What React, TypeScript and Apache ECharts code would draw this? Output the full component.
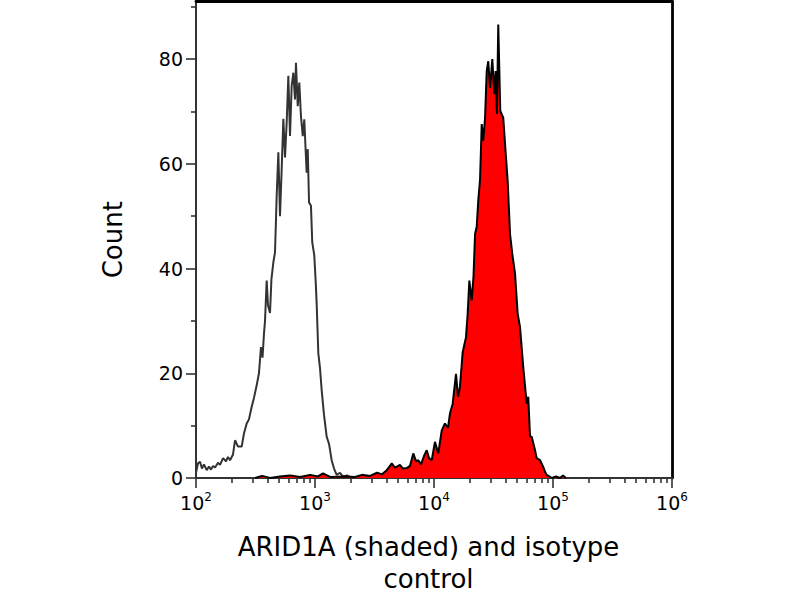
import React, { useEffect, useRef } from "react";
import * as echarts from "echarts";

// Log10 decade positions of the x axis (10^2 .. 10^6)
const decadeExponents = [2, 3, 4, 5, 6];
const minorMultipliers = [2, 3, 4, 5, 6, 7, 8, 9];
const yMajorTicks = [0, 20, 40, 60, 80];
const yMinorTicks = [10, 30, 50, 70, 90];

// Isotype control histogram (x = log10 intensity, y = count)
const isotypeLog = [
  2.0, 2.017, 2.034, 2.05, 2.067, 2.09, 2.109, 2.126, 2.143, 2.16, 2.185, 2.202,
  2.227, 2.252, 2.269, 2.286, 2.311, 2.328, 2.353, 2.384, 2.403, 2.426, 2.445,
  2.468, 2.487, 2.51, 2.529, 2.546, 2.559, 2.571, 2.58, 2.594, 2.605, 2.622,
  2.634, 2.65, 2.664, 2.678, 2.692, 2.706, 2.72, 2.734, 2.748, 2.762, 2.776,
  2.79, 2.804, 2.818, 2.832, 2.84, 2.855, 2.868, 2.882, 2.897, 2.91, 2.922,
  2.93, 2.939, 2.95, 2.966, 2.977, 2.994, 3.006, 3.014, 3.028, 3.042, 3.056,
  3.076, 3.098, 3.118, 3.14, 3.16, 3.182, 3.21, 3.235, 3.269, 3.311, 3.378,
];
const isotypeCount = [
  1.0, 2.8, 3.1, 1.8, 2.6, 1.5, 2.2, 1.6, 2.3, 2.0, 2.9, 2.5,
  3.8, 3.2, 4.0, 3.4, 4.5, 7.2, 6.0, 6.0, 8.5, 10.4, 11.2,
  13.6, 15.3, 17.7, 20.0, 25.0, 23.0, 27.5, 30.0, 37.7, 33.0, 31.5,
  38.0, 41.2, 43.1, 53.9, 62.2, 50.0, 59.0, 68.6, 61.2, 67.9, 76.8,
  65.3, 74.9, 77.4, 72.3, 79.3, 71.0, 75.5, 69.1, 65.3, 68.5, 62.2,
  58.3, 62.8, 52.6, 52.0, 45.0, 42.5, 37.4, 33.3, 23.8, 21.0, 16.8,
  12.0, 7.9, 6.5, 3.4, 1.8, 0.6, 1.0, 0.3, 0.5, 0, 0,
];

// ARID1A (shaded) histogram
const arid1aLog = [
  2.496, 2.555, 2.622, 2.706, 2.79, 2.874, 2.958, 3.025, 3.067, 3.126, 3.252,
  3.336, 3.395, 3.462, 3.521, 3.563, 3.603, 3.63, 3.645, 3.672, 3.714, 3.739,
  3.771, 3.798, 3.826, 3.849, 3.868, 3.891, 3.916, 3.939, 3.958, 3.981, 4.008,
  4.036, 4.065, 4.092, 4.118, 4.134, 4.157, 4.185, 4.202, 4.218, 4.241, 4.269,
  4.283, 4.297, 4.317, 4.332, 4.345, 4.359, 4.372, 4.387, 4.401, 4.414, 4.429,
  4.443, 4.456, 4.471, 4.49, 4.507, 4.518, 4.529, 4.54, 4.557, 4.582, 4.603,
  4.619, 4.639, 4.658, 4.681, 4.703, 4.723, 4.75, 4.779, 4.792, 4.807, 4.821,
  4.849, 4.863, 4.891, 4.916, 4.933, 4.947, 4.961, 4.992, 5.025, 5.059, 5.084,
  5.109,
];
const arid1aCount = [
  0, 0.4, 0, 0.3, 0.5, 0.2, 0.6, 0.3, 0.9, 0.2, 0.3,
  0.2, 0.6, 0.4, 1.0, 0.7, 1.5, 2.3, 2.8, 2.0, 2.5, 1.8,
  1.9, 2.3, 4.7, 3.2, 3.4, 2.6, 4.2, 5.3, 3.8, 3.4, 6.9,
  4.7, 9.1, 10.4, 9.6, 12.3, 14.2, 19.9, 15.5, 17.4, 24.0, 26.9,
  31.4, 37.7, 33.9, 38.5, 46.6, 48.0, 53.0, 57.0, 67.6, 64.4, 68.8,
  77.7, 79.6, 74.5, 80.0, 73.3, 77.7, 69.5, 86.6, 70.1, 68.8, 61.8,
  56.8, 46.6, 42.8, 39.0, 31.4, 28.8, 21.2, 14.2, 15.5, 7.9, 7.9,
  5.3, 3.8, 3.4, 2.2, 1.2, 0.6, 0.4, 0, 0.3, 0, 0.5,
  0,
];

const FONT = "DejaVu Sans";

export default function App() {
  const ref = useRef<HTMLDivElement>(null);

  useEffect(() => {
    if (!ref.current) return;
    const chart = echarts.init(ref.current, undefined, { renderer: "svg" });

    const xMin = decadeExponents[0];
    const xMax = decadeExponents[decadeExponents.length - 1];
    const minorX: number[] = [];
    decadeExponents.slice(0, -1).forEach((d) => {
      minorMultipliers.forEach((k) => minorX.push(d + Math.log10(k)));
    });

    const isoData = isotypeLog.map((x, i) => [x, isotypeCount[i]]);
    const aridData = arid1aLog.map((x, i) => [x, arid1aCount[i]]);

    const axisColor = "#333";

    chart.setOption({
      animation: false,
      backgroundColor: "#fff",
      grid: { left: 196, right: 128, top: 1.5, bottom: 122 },
      xAxis: [
        {
          type: "value",
          min: xMin,
          max: xMax,
          interval: 1,
          position: "bottom",
          splitLine: { show: false },
          axisLine: { show: true, onZero: false, lineStyle: { color: axisColor, width: 2 } },
          axisTick: { show: true, length: 10, lineStyle: { color: axisColor, width: 1.6 } },
          axisLabel: {
            margin: 13,
            formatter: (v: number) => `{b|10}{s|${Math.round(v)}}`,
            rich: {
              b: { fontSize: 19, fontFamily: FONT, color: "#000", lineHeight: 24 },
              s: { fontSize: 12, fontFamily: FONT, color: "#000", lineHeight: 12, verticalAlign: "top" },
            },
          },
          name: "ARID1A (shaded) and isotype\ncontrol",
          nameLocation: "middle",
          nameGap: 53,
          nameTextStyle: {
            fontSize: 26,
            lineHeight: 32,
            fontFamily: FONT,
            color: "#000",
            padding: [0, 11, 0, 0],
          },
        },
        {
          type: "value",
          min: xMin,
          max: xMax,
          position: "bottom",
          splitLine: { show: false },
          axisLine: { show: false },
          axisLabel: { show: false },
          axisTick: {
            show: true,
            length: 5,
            customValues: minorX,
            lineStyle: { color: axisColor, width: 1.6 },
          },
        },
        {
          type: "value",
          min: xMin,
          max: xMax,
          position: "top",
          splitLine: { show: false },
          axisLine: { show: true, onZero: false, lineStyle: { color: "#000", width: 2.8 } },
          axisLabel: { show: false },
          axisTick: { show: false },
        },
      ],
      yAxis: [
        {
          type: "value",
          min: 0,
          max: 91,
          position: "left",
          splitLine: { show: false },
          axisLine: { show: true, onZero: false, lineStyle: { color: axisColor, width: 2 } },
          axisTick: {
            show: true,
            length: 10,
            customValues: yMajorTicks,
            lineStyle: { color: axisColor, width: 1.6 },
          },
          axisLabel: {
            margin: 13,
            customValues: yMajorTicks,
            fontSize: 19,
            fontFamily: FONT,
            color: "#000",
          },
          name: "Count",
          nameLocation: "middle",
          nameGap: 70,
          nameTextStyle: { fontSize: 26, fontFamily: FONT, color: "#000" },
        },
        {
          type: "value",
          min: 0,
          max: 91,
          position: "left",
          splitLine: { show: false },
          axisLine: { show: false },
          axisLabel: { show: false },
          axisTick: {
            show: true,
            length: 5,
            customValues: yMinorTicks,
            lineStyle: { color: axisColor, width: 1.6 },
          },
        },
        {
          type: "value",
          min: 0,
          max: 91,
          position: "right",
          splitLine: { show: false },
          axisLine: { show: true, onZero: false, lineStyle: { color: "#000", width: 2.8 } },
          axisLabel: { show: false },
          axisTick: { show: false },
        },
      ],
      series: [
        {
          name: "Isotype control",
          type: "line",
          xAxisIndex: 0,
          yAxisIndex: 0,
          data: isoData,
          showSymbol: false,
          symbol: "none",
          lineStyle: { color: "#333", width: 2 },
          z: 2,
        },
        {
          name: "ARID1A",
          type: "line",
          xAxisIndex: 0,
          yAxisIndex: 0,
          data: aridData,
          showSymbol: false,
          symbol: "none",
          lineStyle: { color: "#000", width: 2 },
          areaStyle: { color: "#ff0000", opacity: 1 },
          z: 3,
        },
      ],
    });

    return () => chart.dispose();
  }, []);

  return (
    <div
      ref={ref}
      style={{ position: "fixed", left: 0, top: 0, width: 800, height: 600, background: "#fff" }}
    />
  );
}
